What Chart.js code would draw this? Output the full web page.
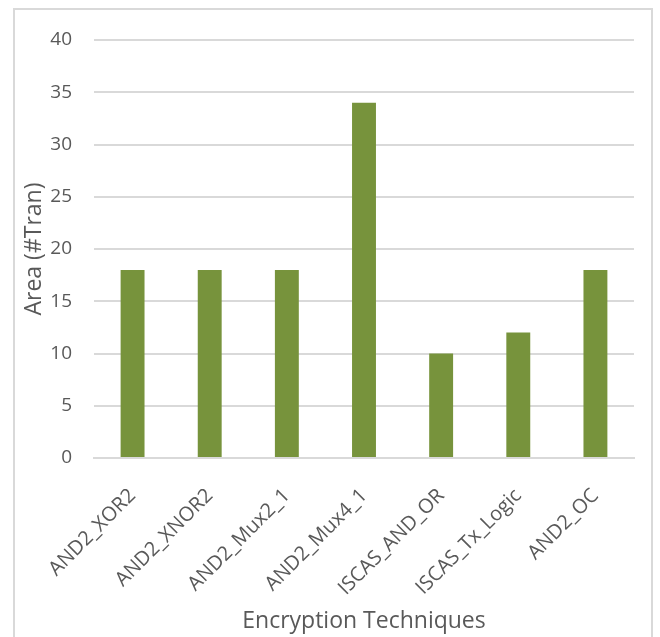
<!DOCTYPE html>
<html>
<head>
<meta charset="utf-8">
<script src="https://cdn.jsdelivr.net/npm/chart.js@4"></script>
<style>
html,body{margin:0;padding:0;background:#fff;}
#wrap{position:relative;width:660px;height:637px;overflow:hidden;}
#frame{position:absolute;left:13px;top:8px;width:640px;height:660px;border:2px solid #d9d9d9;box-sizing:border-box;}
canvas{position:absolute;left:0;top:0;}
</style>
</head>
<body>
<div id="wrap">
<div id="frame"></div>
<canvas id="c" width="660" height="637"></canvas>
</div>
<script>
const categories = ["AND2_XOR2","AND2_XNOR2","AND2_Mux2_1","AND2_Mux4_1","ISCAS_AND_OR","ISCAS_Tx_Logic","AND2_OC"];
const areaValues = [18,18,18,34,10,12,18];
const yTicks = [0,5,10,15,20,25,30,35,40];
const xTitle = "Encryption Techniques";
const yTitle = "Area (#Tran)";

const font = "'Open Sans', 'Noto Sans', sans-serif";
const txt = '#595959';
new Chart(document.getElementById('c'), {
  type: 'bar',
  data: {
    labels: categories,
    datasets: [{
      data: areaValues,
      backgroundColor: '#77933C',
      borderWidth: 0,
      barPercentage: 0.5,
      categoryPercentage: 0.62
    }]
  },
  options: {
    responsive: false,
    animation: false,
    devicePixelRatio: 1,
    layout: { padding: { left: 0, right: 26, top: 40, bottom: 0 } },
    plugins: { legend: { display: false }, tooltip: { enabled: false } },
    scales: {
      x: {
        grid: { display: false, drawTicks: false },
        border: { display: true, color: '#d9d9d9', width: 2 },
        ticks: { color: txt, font: { family: font, size: 20 }, maxRotation: 45, minRotation: 45, padding: 26, autoSkip: false },
        title: { display: true, text: xTitle, color: txt, font: { family: font, size: 23 }, padding: { top: 0, bottom: 2 } },
        afterFit: s => { s.height = 179; }
      },
      y: {
        min: 0, max: 40,
        afterBuildTicks: s => { s.ticks = yTicks.map(v => ({ value: v })); },
        grid: { color: '#d9d9d9', lineWidth: 2, drawTicks: false },
        border: { display: false },
        ticks: { color: txt, font: { family: font, size: 19 }, padding: 22 },
        title: { display: true, text: yTitle, color: txt, font: { family: font, size: 23 }, padding: { top: 21, bottom: 0 } },
        afterFit: s => { s.width = 94; }
      }
    }
  }
});
</script>
</body>
</html>
